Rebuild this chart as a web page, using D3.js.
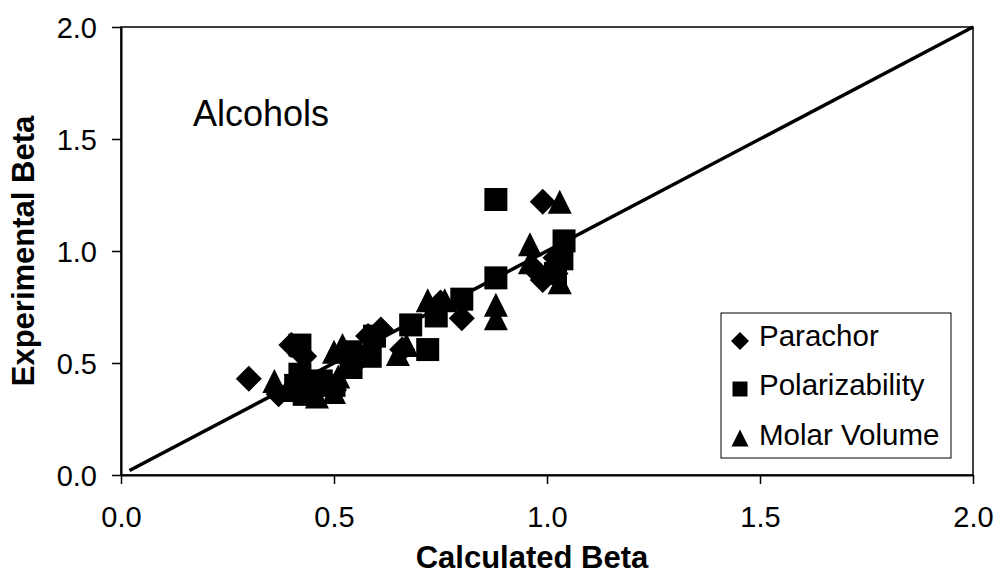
<!DOCTYPE html>
<html>
<head>
<meta charset="utf-8">
<script src="https://cdn.jsdelivr.net/npm/d3@7/dist/d3.min.js"></script>
<style>
  html, body { margin: 0; padding: 0; background: #fff; }
  svg { display: block; font-family: "Liberation Sans", Arial, sans-serif; }
</style>
</head>
<body>
<svg id="chart" width="994" height="582"></svg>
<script>
// Calculated vs experimental beta for alcohols, three estimation methods
const seriesNames = ["Parachor", "Polarizability", "Molar Volume"];

// [calculated, experimental]
const parachor = [
  [0.30, 0.43], [0.40, 0.58], [0.43, 0.53], [0.37, 0.36], [0.41, 0.40],
  [0.45, 0.36], [0.50, 0.38], [0.55, 0.50], [0.61, 0.65], [0.58, 0.62],
  [0.66, 0.56], [0.75, 0.77], [0.80, 0.70], [0.99, 1.22], [0.99, 0.87],
  [1.02, 0.90], [1.02, 0.97], [0.97, 0.92]
];
const polarizability = [
  [0.42, 0.58], [0.42, 0.45], [0.41, 0.40], [0.43, 0.36], [0.47, 0.42],
  [0.50, 0.40], [0.54, 0.55], [0.54, 0.48], [0.585, 0.53], [0.595, 0.62],
  [0.68, 0.67], [0.72, 0.56], [0.74, 0.71], [0.80, 0.785], [0.88, 0.88],
  [0.88, 1.23], [1.035, 0.965], [1.04, 1.045], [1.02, 0.90]
];
const molarVolume = [
  [0.36, 0.42], [0.39, 0.38], [0.46, 0.35], [0.50, 0.37], [0.49, 0.41],
  [0.51, 0.44], [0.50, 0.55], [0.52, 0.58], [0.65, 0.54], [0.67, 0.58],
  [0.72, 0.78], [0.76, 0.78], [0.88, 0.76], [0.88, 0.70], [0.96, 1.03],
  [0.96, 0.95], [1.03, 0.86], [1.03, 1.22], [1.01, 0.92]
];

// 1:1 reference line
const diagonal = [[0.02, 0.02], [2.0, 2.0]];

const xTicks = [0.0, 0.5, 1.0, 1.5, 2.0];
const yTicks = [0.0, 0.5, 1.0, 1.5, 2.0];

const plot = { left: 121, top: 27, right: 973, bottom: 475 };

const svg = d3.select("#chart");
const x = d3.scaleLinear().domain([0, 2]).range([plot.left, plot.right]);
const y = d3.scaleLinear().domain([0, 2]).range([plot.bottom, plot.top]);

// plot frame
svg.append("rect")
  .attr("x", plot.left).attr("y", plot.top)
  .attr("width", plot.right - plot.left).attr("height", plot.bottom - plot.top)
  .attr("fill", "none").attr("stroke", "#000").attr("stroke-width", 1.5);

// axes
const xAxis = d3.axisBottom(x).tickValues(xTicks).tickFormat(d3.format(".1f"))
  .tickSizeInner(9).tickSizeOuter(0).tickPadding(22);
const yAxis = d3.axisLeft(y).tickValues(yTicks).tickFormat(d3.format(".1f"))
  .tickSizeInner(9).tickSizeOuter(0).tickPadding(15);

const gx = svg.append("g").attr("transform", `translate(0,${plot.bottom})`).call(xAxis);
const gy = svg.append("g").attr("transform", `translate(${plot.left},0)`).call(yAxis);
[gx, gy].forEach(g => {
  g.select(".domain").attr("stroke", "#000").attr("stroke-width", 2);
  g.selectAll(".tick line").attr("stroke", "#000").attr("stroke-width", 1.5);
  g.selectAll(".tick text").attr("fill", "#000").attr("font-size", 29)
    .attr("font-family", "'Liberation Sans', Arial, sans-serif");
});
gy.selectAll(".tick text").attr("dy", "0.36em");

// axis titles
svg.append("text")
  .attr("x", (plot.left + plot.right) / 2 - 15).attr("y", 568)
  .attr("text-anchor", "middle").attr("font-size", 31).attr("font-weight", "bold")
  .text("Calculated Beta");
svg.append("text")
  .attr("transform", `translate(34,${(plot.top + plot.bottom) / 2}) rotate(-90)`)
  .attr("text-anchor", "middle").attr("font-size", 31).attr("font-weight", "bold")
  .text("Experimental Beta");

// in-plot annotation
svg.append("text")
  .attr("x", 193).attr("y", 126)
  .attr("font-size", 36)
  .text("Alcohols");

// diagonal line
svg.append("path")
  .datum(diagonal)
  .attr("d", d3.line().x(d => x(d[0])).y(d => y(d[1])))
  .attr("fill", "none").attr("stroke", "#000").attr("stroke-width", 3.5);

// marker shapes centred at the origin
function markerPath(kind, s) {
  const h = s / 2;
  if (kind === 0) return `M0,${-h}L${h},0L0,${h}L${-h},0Z`;
  if (kind === 1) return `M${-h},${-h}H${h}V${h}H${-h}Z`;
  return `M0,${-h}L${h},${h}L${-h},${h}Z`;
}

const allSeries = [parachor, polarizability, molarVolume];
const markerSize = [26, 23, 24];

allSeries.forEach((data, i) => {
  svg.append("g").selectAll("path")
    .data(data).join("path")
    .attr("transform", d => `translate(${x(d[0])},${y(d[1])})`)
    .attr("d", markerPath(i, markerSize[i]))
    .attr("fill", "#000");
});

// legend
const legend = svg.append("g");
legend.append("rect")
  .attr("x", 721).attr("y", 313).attr("width", 230).attr("height", 145)
  .attr("fill", "#fff").attr("stroke", "#000").attr("stroke-width", 1);
const legendSize = [18, 15, 17];
const legendMarkerY = [341, 389, 438];
const legendTextY = [346, 395, 445];
seriesNames.forEach((name, i) => {
  legend.append("path")
    .attr("transform", `translate(740,${legendMarkerY[i]})`)
    .attr("d", markerPath(i, legendSize[i]))
    .attr("fill", "#000");
  legend.append("text")
    .attr("x", 759).attr("y", legendTextY[i])
    .attr("font-size", 29.5)
    .text(name);
});
</script>
</body>
</html>
